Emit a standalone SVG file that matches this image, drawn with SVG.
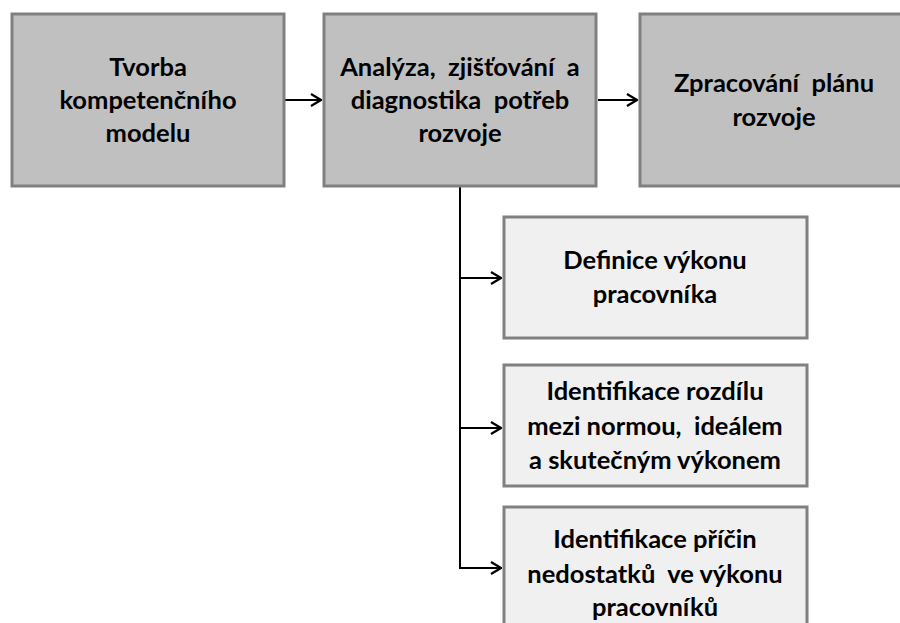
<svg xmlns="http://www.w3.org/2000/svg" width="900" height="623" viewBox="0 0 900 623">
  <defs>
    <marker id="arrow" viewBox="0 0 12 14" refX="11" refY="7" markerWidth="12" markerHeight="14" markerUnits="userSpaceOnUse" orient="auto">
      <path d="M1,1 L11,7 L1,13" fill="none" stroke="#000" stroke-width="2.2"/>
    </marker>
  </defs>
  <style>
    .main { fill: #c0c0c0; stroke: #808080; stroke-width: 3; }
    .sub { fill: #f0f0f0; stroke: #808080; stroke-width: 3; }
    .lbl { font-family: Lato, "Liberation Sans", sans-serif; font-weight: bold; font-size: 25.5px; fill: #000; text-anchor: middle; }
    .conn { fill: none; stroke: #000; stroke-width: 2; }
  </style>
  <rect width="900" height="623" fill="#fff"/>

  <g id="connectors">
    <line class="conn" x1="285" y1="100" x2="321" y2="100" marker-end="url(#arrow)"/>
    <line class="conn" x1="598" y1="100" x2="637" y2="100" marker-end="url(#arrow)"/>
    <path class="conn" d="M460,187 V568"/>
    <line class="conn" x1="460" y1="278" x2="501" y2="278" marker-end="url(#arrow)"/>
    <line class="conn" x1="460" y1="428" x2="501" y2="428" marker-end="url(#arrow)"/>
    <line class="conn" x1="459" y1="568" x2="501" y2="568" marker-end="url(#arrow)"/>
  </g>

  <g id="tvorba">
    <rect class="main" x="12" y="14" width="272" height="172"/>
    <text class="lbl" x="148" y="76">Tvorba</text>
    <text class="lbl" x="148" y="109">kompetenčního</text>
    <text class="lbl" x="148" y="142">modelu</text>
  </g>

  <g id="analyza">
    <rect class="main" x="324" y="14" width="272" height="172"/>
    <text class="lbl" x="460" y="76" xml:space="preserve">Analýza,  zjišťování  a</text>
    <text class="lbl" x="460" y="109" xml:space="preserve">diagnostika  potřeb</text>
    <text class="lbl" x="460" y="142">rozvoje</text>
  </g>

  <g id="zpracovani">
    <rect class="main" x="640" y="14" width="272" height="172"/>
    <text class="lbl" x="774" y="92" xml:space="preserve">Zpracování  plánu</text>
    <text class="lbl" x="774" y="126">rozvoje</text>
  </g>

  <g id="definice">
    <rect class="sub" x="504" y="217" width="303" height="121"/>
    <text class="lbl" x="655" y="269">Definice výkonu</text>
    <text class="lbl" x="655" y="303">pracovníka</text>
  </g>

  <g id="rozdil">
    <rect class="sub" x="504" y="365" width="303" height="121"/>
    <text class="lbl" x="655" y="400">Identifikace rozdílu</text>
    <text class="lbl" x="655" y="435" xml:space="preserve">mezi normou,  ideálem</text>
    <text class="lbl" x="655" y="469">a skutečným výkonem</text>
  </g>

  <g id="priciny">
    <rect class="sub" x="504" y="507" width="303" height="130"/>
    <text class="lbl" x="655" y="548">Identifikace příčin</text>
    <text class="lbl" x="655" y="583" xml:space="preserve">nedostatků  ve výkonu</text>
    <text class="lbl" x="655" y="616">pracovníků</text>
  </g>
</svg>
